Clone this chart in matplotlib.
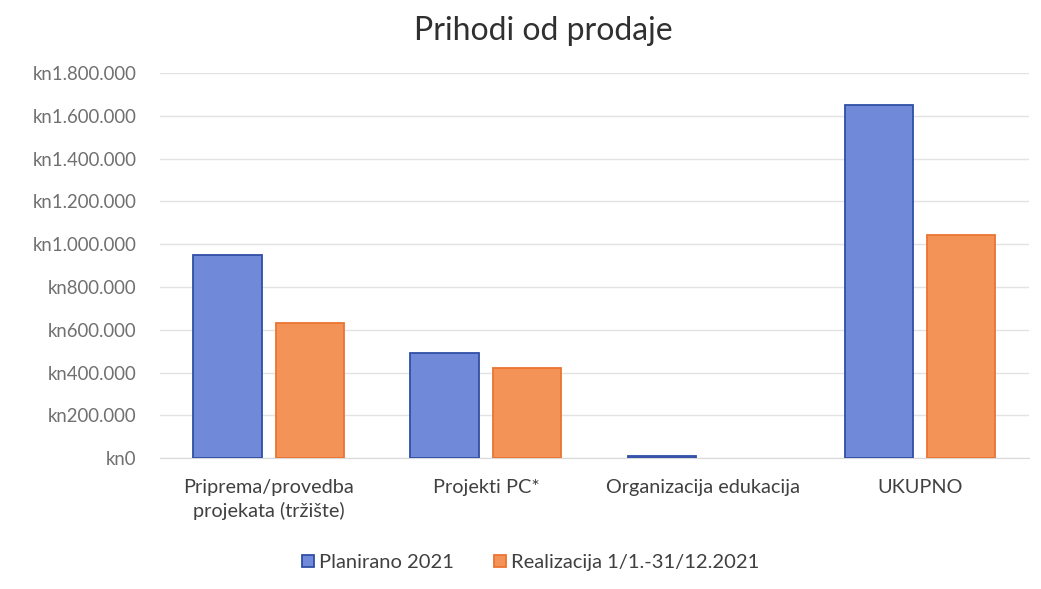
import matplotlib
import matplotlib.pyplot as plt
import numpy as np
from matplotlib.ticker import FuncFormatter, MultipleLocator

matplotlib.use("Agg")

categories = ["Priprema/provedba\nprojekata (tržište)", "Projekti PC*", "Organizacija edukacija", "UKUPNO"]
planirano = [950000, 490000, 10000, 1650000]
realizacija = [630000, 420000, 0, 1045000]
series_labels = ["Planirano 2021", "Realizacija 1/1.-31/12.2021"]

plt.rcParams["font.family"] = ["Lato", "DejaVu Sans"]


def kn_fmt(v, _pos):
    return "kn" + f"{int(round(v)):,}".replace(",", ".")


fig = plt.figure(figsize=(10.41, 5.89), dpi=100)
ax = fig.add_axes([0.154, 0.222, 0.834, 0.654])

x = np.arange(len(categories))
w = 0.315
gap = 0.065
ax.bar(x - (w + gap) / 2, planirano, w, color="#7189D9", edgecolor="#2F4FA6",
       linewidth=[1.3 if v > 0 else 0 for v in planirano], label=series_labels[0], zorder=3)
ax.bar(x + (w + gap) / 2, realizacija, w, color="#F49358", edgecolor="#EC7431",
       linewidth=[1.3 if v > 0 else 0 for v in realizacija], label=series_labels[1], zorder=3)

ax.set_xlim(-0.5, len(categories) - 0.5)
ax.set_ylim(0, 1800000)
ax.yaxis.set_major_locator(MultipleLocator(200000))
ax.yaxis.set_major_formatter(FuncFormatter(kn_fmt))
ax.set_xticks(x)
ax.set_xticklabels(categories, fontsize=14.3, color="#404040", linespacing=1.4)
ax.tick_params(axis="y", labelsize=13.4, labelcolor="#707070", length=0, pad=17)
ax.tick_params(axis="x", length=0, pad=15)
ax.grid(axis="y", color="#e3e3e3", linewidth=1.0, zorder=0)
for s in ["top", "right", "left"]:
    ax.spines[s].set_visible(False)
ax.spines["bottom"].set_color("#d9d9d9")

fig.text(0.522, 0.948, "Prihodi od prodaje", ha="center", va="center", fontsize=23, color="#303030")

fig.legend(loc="center", bbox_to_anchor=(0.51, 0.045), ncol=2, frameon=False, fontsize=14.5,
           handlelength=0.6, handleheight=0.6, handletextpad=0.25, columnspacing=2.0,
           labelcolor="#404040")

fig.savefig("out.png", dpi=100, facecolor="white")
